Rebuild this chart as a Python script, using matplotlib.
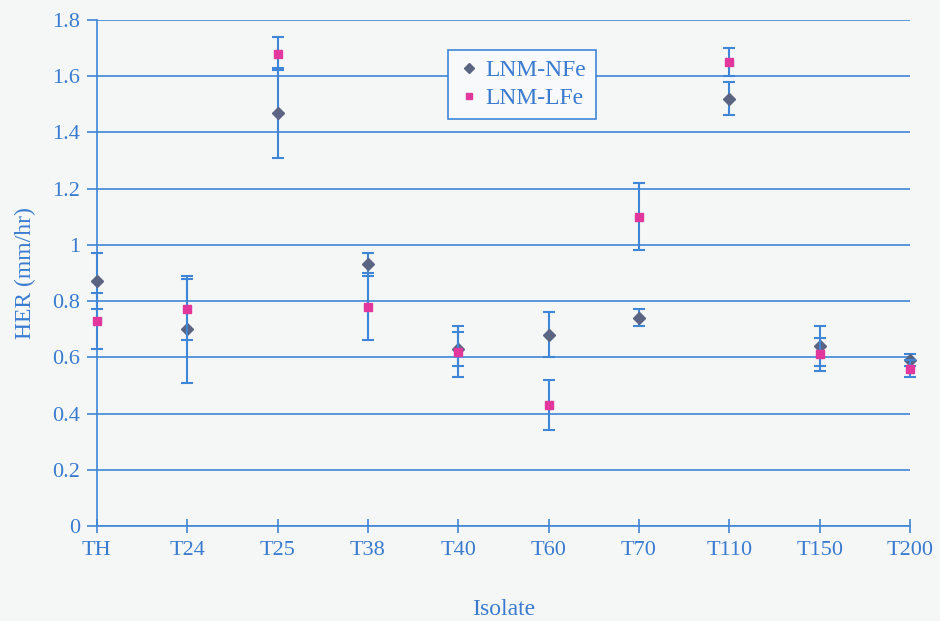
import numpy as np
from matplotlib import pyplot as plt
from matplotlib.lines import Line2D

isolates = ["TH", "T24", "T25", "T38", "T40", "T60", "T70", "T110", "T150", "T200"]

nfe = [0.87, 0.70, 1.47, 0.93, 0.63, 0.68, 0.74, 1.52, 0.64, 0.59]
nfe_err = [0.10, 0.19, 0.16, 0.04, 0.06, 0.08, 0.03, 0.06, 0.07, 0.02]

lfe = [0.73, 0.77, 1.68, 0.78, 0.62, 0.43, 1.10, 1.65, 0.61, 0.56]
lfe_err = [0.10, 0.11, 0.06, 0.12, 0.09, 0.09, 0.12, 0.05, 0.06, 0.03]

blue = "#3f86d8"
txt = "#3a7bd0"
bg = "#f4f7f5"
c_nfe = "#5b6482"
c_lfe = "#e2379c"

plt.rcParams['font.family'] = ['Liberation Serif', 'DejaVu Serif']

fig = plt.figure(figsize=(9.4, 6.21), dpi=100, facecolor=bg)
ax = fig.add_axes([0.103, 0.153, 0.865, 0.815], facecolor=bg)

x = np.arange(len(isolates))

ax.errorbar(x, nfe, yerr=nfe_err, fmt='D', color=c_nfe, ms=6,
            ecolor=blue, elinewidth=1.5, capsize=4, capthick=1.5,
            clip_on=False, zorder=3)
ax.errorbar(x, lfe, yerr=lfe_err, fmt='s', color=c_lfe, ms=6,
            ecolor=blue, elinewidth=1.5, capsize=4, capthick=1.5,
            clip_on=False, zorder=4)

ax.set_xlim(0, len(isolates) - 1)
ax.set_ylim(0, 1.8)
ax.set_yticks(np.arange(0, 1.81, 0.2))
ax.set_yticklabels(["0", "0.2", "0.4", "0.6", "0.8", "1", "1.2", "1.4", "1.6", "1.8"])
ax.set_xticks(x)
ax.set_xticklabels(isolates)

ax.grid(axis='y', color=blue, linewidth=1.2)
ax.set_axisbelow(True)
for s in ['top', 'right']:
    ax.spines[s].set_visible(False)
for s in ['left', 'bottom']:
    ax.spines[s].set_color(blue)
    ax.spines[s].set_linewidth(1.2)

ax.tick_params(axis='y', colors=blue, labelcolor=txt, labelsize=16, length=7, width=1.2, pad=5)
ax.tick_params(axis='x', colors=blue, labelcolor=txt, labelsize=16, length=10,
               width=1.2, direction='inout', pad=6)

ax.set_ylabel("HER (mm/hr)", color=txt, fontsize=17, labelpad=12)
ax.set_xlabel("Isolate", color=txt, fontsize=17, labelpad=28)

handles = [Line2D([], [], ls='none', marker='D', color=c_nfe, ms=5),
           Line2D([], [], ls='none', marker='s', color=c_lfe, ms=5)]
leg = ax.legend(handles, ["LNM-NFe", "LNM-LFe"], loc='upper left',
                bbox_to_anchor=(0.417, 0.964), fontsize=17,
                frameon=True, fancybox=False, edgecolor=blue, facecolor='#f7f9fa',
                labelcolor=txt, handletextpad=0.2, borderpad=0.4, handlelength=1.0,
                labelspacing=0.3, framealpha=1)
leg.get_frame().set_linewidth(1.2)

fig.savefig("out.png", dpi=100, facecolor=bg)
